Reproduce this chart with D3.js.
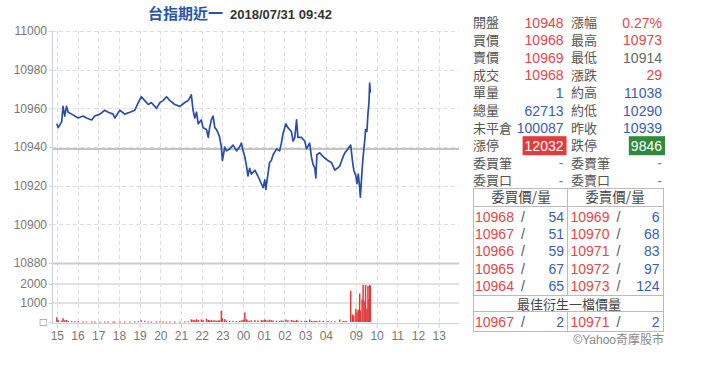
<!DOCTYPE html>
<html>
<head>
<meta charset="utf-8">
<script src="https://cdn.jsdelivr.net/npm/d3@7"></script>
<style>
  body { margin: 0; background: #fff; }
  svg { display: block; font-family: "Liberation Sans", Arial, "Noto Sans CJK TC", sans-serif; }
  .tick text { fill: #777; font-size: 12px; }
  .tick line { stroke: #c5d3e8; }
  .domain { display: none; }
</style>
</head>
<body>
<div id="chart"></div>
<script>
// Tick data for the intraday chart (minutes: night session 15:00-05:00, day session 08:45-13:45)
var hourTicks = ["15:00", "16:00", "17:00", "18:00", "19:00", "20:00", "21:00", "22:00", "23:00",
    "00:00", "01:00", "02:00", "03:00", "04:00", "09:00", "10:00", "11:00", "12:00", "13:00"];
var priceTicks = [10880, 10900, 10920, 10940, 10960, 10980, 11000];
var volumeTicks = [0, 1000, 2000];
var prevClose = 10939;

// Price / volume series
var times = ["15:00", "15:04", "15:14", "15:18", "15:23", "15:28", "15:33", "15:43", "15:52",
    "16:02", "16:16", "16:26", "16:41", "16:50", "17:05", "17:19", "17:29", "17:43", "17:48",
    "18:03", "18:17", "18:32", "18:46", "18:56", "19:05", "19:15", "19:25", "19:34", "19:49",
    "19:59", "20:08", "20:18", "20:28", "20:42", "20:57", "21:11", "21:21", "21:30", "21:35",
    "21:40", "21:45", "21:50", "21:59", "22:04", "22:14", "22:19", "22:23", "22:28", "22:33",
    "22:38", "22:43", "22:48", "22:52", "22:57", "23:00", "23:07", "23:12", "23:21", "23:31",
    "23:41", "23:50", "23:55", "00:00", "00:05", "00:10", "00:14", "00:19", "00:24", "00:34",
    "00:43", "00:53", "00:58", "01:03", "01:06", "01:12", "01:17", "01:22", "01:27", "01:37",
    "01:46", "01:51", "01:56", "02:04", "02:10", "02:20", "02:25", "02:30", "02:35", "02:39",
    "02:49", "02:59", "03:04", "03:13", "03:18", "03:23", "03:28", "03:31", "03:34", "03:42",
    "03:52", "04:06", "04:16", "04:26", "04:40", "04:50", "04:55", "05:00",
    "08:45", "08:50", "08:54", "09:00", "09:03", "09:07", "09:11", "09:13", "09:18", "09:21",
    "09:26", "09:28", "09:32", "09:35", "09:38", "09:40", "09:42"];
var prices = [10952, 10950, 10953, 10961, 10956, 10961, 10958, 10957, 10956,
    10955, 10956, 10955, 10954, 10956, 10957, 10959, 10958, 10957, 10955,
    10959, 10957, 10958, 10959, 10963, 10966, 10964, 10962, 10963, 10960,
    10963, 10964, 10966, 10964, 10962, 10961, 10963, 10964, 10967, 10959,
    10955, 10958, 10952, 10954, 10950, 10949, 10945, 10950, 10954, 10956,
    10950, 10949, 10947, 10945, 10940, 10933, 10940, 10938, 10939, 10941,
    10938, 10940, 10942, 10938, 10935, 10930, 10925, 10929, 10926, 10928,
    10925, 10921, 10919, 10923, 10918, 10926, 10932, 10933, 10936, 10939,
    10938, 10942, 10947, 10952, 10950, 10948, 10943, 10945, 10954, 10945,
    10945, 10943, 10939, 10942, 10935, 10931, 10929, 10924, 10936, 10937,
    10935, 10933, 10932, 10928, 10930, 10935, 10937, 10938,
    10941, 10933, 10928, 10925, 10921, 10926, 10919, 10914, 10928, 10935,
    10944, 10949, 10948, 10957, 10963, 10973, 10968];
var volumes = [250, 100, 70, 200, 90, 110, 60, 50, 40,
    30, 25, 30, 25, 20, 25, 20, 25, 20, 20,
    25, 20, 25, 30, 40, 90, 60, 30, 25, 30,
    40, 25, 20, 25, 20, 25, 30, 40, 140, 120,
    100, 150, 110, 130, 100, 180, 110, 90, 100, 80,
    90, 70, 80, 90, 600, 200, 150, 80, 60, 60,
    50, 60, 80, 120, 500, 150, 80, 60, 90, 100,
    80, 110, 90, 130, 100, 80, 120, 90, 80, 70,
    60, 80, 70, 130, 90, 100, 80, 60, 110, 70,
    60, 50, 60, 130, 50, 40, 50, 60, 50, 70,
    60, 50, 40, 40, 130, 60, 40, 50,
    1650, 400, 350, 700, 500, 650, 1500, 600, 1200, 1950,
    1100, 1950, 700, 1900, 1200, 1950, 1900];

// Quote panel
var leftLabels = ["開盤", "買價", "賣價", "成交", "單量", "總量", "未平倉", "漲停", "委買筆", "委買口"];
var leftValues = ["10948", "10968", "10969", "10968", "1", "62713", "100087", "12032", "-", "-"];
var leftKinds = ["up", "up", "up", "up", "info", "info", "info", "limitUp", "none", "none"];
var rightLabels = ["漲幅", "最高", "最低", "漲跌", "約高", "約低", "昨收", "跌停", "委賣筆", "委賣口"];
var rightValues = ["0.27%", "10973", "10914", "29", "11038", "10290", "10939", "9846", "-", "-"];
var rightKinds = ["up", "up", "flat", "up", "info", "info", "info", "limitDown", "none", "none"];

// Order book
var bidPrices = [10968, 10967, 10966, 10965, 10964];
var bidSizes = [54, 51, 59, 67, 65];
var askPrices = [10969, 10970, 10971, 10972, 10973];
var askSizes = [6, 68, 83, 97, 124];
var bestBid = [10967, 2];
var bestAsk = [10971, 2];

var colors = {
    up: "#e0474c", info: "#3b5db0", flat: "#666", none: "#6a7fb5",
    limitUp: "#fff", limitDown: "#fff", label: "#555"
};

// Convert a clock time to minutes on the trading axis
function toIdx(t) {
    var h = +t.slice(0, 2), m = +t.slice(3, 5);
    if (h >= 15) return (h - 15) * 60 + m;
    if (h <= 5) return (h + 9) * 60 + m;
    return 840 + 12 + (h * 60 + m - 525);
}

var svg = d3.select("#chart")
    .append("svg")
    .attr("width", 720)
    .attr("height", 374);

var x = d3.scaleLinear().domain([-14, 1166]).range([52, 459]);
var y = d3.scaleLinear().domain([10880, 11000]).range([263, 31]);
var yv = d3.scaleLinear().domain([0, 2000]).range([322, 284]);

// Title
svg.append("text")
    .attr("x", 148).attr("y", 19)
    .style("font-family", "'Noto Sans CJK TC', sans-serif")
    .style("font-size", "15px").style("font-weight", "bold")
    .attr("fill", "#2b55a8")
    .text("台指期近一");
svg.append("text")
    .attr("x", 230).attr("y", 19)
    .style("font-size", "13px").style("font-weight", "bold")
    .attr("fill", "#333")
    .text("2018/07/31 09:42");

// Vertical grid
svg.selectAll(".vgrid")
    .data(hourTicks)
    .enter()
    .append("line")
    .attr("class", "vgrid")
    .attr("x1", function (d) { return Math.round(x(toIdx(d))) + 0.5; })
    .attr("x2", function (d) { return Math.round(x(toIdx(d))) + 0.5; })
    .attr("y1", 31).attr("y2", 323)
    .attr("stroke", "#ddd")
    .attr("stroke-dasharray", "4,3");

// Horizontal price grid
svg.selectAll(".hgrid")
    .data(priceTicks)
    .enter()
    .append("line")
    .attr("class", "hgrid")
    .attr("x1", 52).attr("x2", 459)
    .attr("y1", function (d) { return Math.round(y(d)) + 0.5; })
    .attr("y2", function (d) { return Math.round(y(d)) + 0.5; })
    .attr("stroke", function (d) { return d === 10880 ? "#ccc" : "#ddd"; })
    .attr("stroke-width", function (d) { return d === 10880 ? 2 : 1; })
    .attr("stroke-dasharray", function (d) { return d === 10880 ? null : "4,3"; });

// Volume grid
svg.selectAll(".vvgrid")
    .data(volumeTicks.filter(function (d) { return d > 0; }))
    .enter()
    .append("line")
    .attr("x1", 52).attr("x2", 459)
    .attr("y1", function (d) { return yv(d); })
    .attr("y2", function (d) { return yv(d); })
    .attr("stroke", "#e2e2e2")
    .attr("stroke-width", 2);

// Previous close reference line
svg.append("line")
    .attr("x1", 52).attr("x2", 459)
    .attr("y1", y(prevClose)).attr("y2", y(prevClose))
    .attr("stroke", "#c4c4c4")
    .attr("stroke-width", 2);

// Axes
svg.append("g")
    .attr("transform", "translate(52,0)")
    .call(d3.axisLeft(y).tickValues(priceTicks).tickSize(3).tickPadding(2).tickFormat(d3.format("d")));
svg.append("g")
    .attr("transform", "translate(52,0)")
    .call(d3.axisLeft(yv).tickValues(volumeTicks).tickSize(3).tickPadding(2)
        .tickFormat(function (d) { return d === 0 ? "□" : d; }));
svg.append("g")
    .attr("transform", "translate(0,323)")
    .call(d3.axisBottom(x).tickValues(hourTicks.map(toIdx)).tickSize(5).tickPadding(3)
        .tickFormat(function (d, i) { return hourTicks[i].slice(0, 2); }));

svg.append("line")
    .attr("x1", 52.5).attr("x2", 52.5).attr("y1", 31).attr("y2", 323)
    .attr("stroke", "#c5d3e8");
svg.append("line")
    .attr("x1", 52).attr("x2", 459).attr("y1", 323.5).attr("y2", 323.5)
    .attr("stroke", "#c5d3e8");

// Volume bars
svg.selectAll(".vol")
    .data(volumes)
    .enter()
    .append("rect")
    .attr("class", "vol")
    .attr("x", function (d, i) { return x(toIdx(times[i])) - 0.75; })
    .attr("width", 1.5)
    .attr("y", function (d) { return yv(d); })
    .attr("height", function (d) { return Math.max(1, yv(0) - yv(d)); })
    .attr("fill", "#e03a3a");

// Price line
var line = d3.line()
    .x(function (d, i) { return x(toIdx(times[i])); })
    .y(function (d) { return y(d); });
svg.append("path")
    .datum(prices)
    .attr("d", line)
    .attr("fill", "none")
    .attr("stroke", "#2a4ea6")
    .attr("stroke-width", 1.7)
    .attr("stroke-linejoin", "round");

// Quote panel
var rowY = function (i) { return 22.5 + i * 17.6; };
var panel = svg.append("g").style("font-size", "14px");

function addColumn(labels, values, kinds, labelX, valueX) {
    labels.forEach(function (lab, i) {
        panel.append("text")
            .attr("x", labelX).attr("y", rowY(i) + 4.5)
            .style("font-family", "'Noto Sans CJK TC', sans-serif")
            .style("font-size", "13px")
            .attr("fill", colors.label)
            .text(lab);
        var t = panel.append("text")
            .attr("x", valueX).attr("y", rowY(i) + 5)
            .attr("text-anchor", "end")
            .attr("fill", colors[kinds[i]])
            .text(values[i]);
        if (kinds[i] === "limitUp" || kinds[i] === "limitDown") {
            var w = t.node().getComputedTextLength() + 5;
            panel.insert("rect", "text")
                .attr("x", valueX + 3 - w).attr("y", rowY(i) - 9.5)
                .attr("width", w).attr("height", 19)
                .attr("fill", kinds[i] === "limitUp" ? "#e03c3c" : "#2e8b3e");
        }
    });
}
addColumn(leftLabels, leftValues, leftKinds, 473, 563.5);
addColumn(rightLabels, rightValues, rightKinds, 571, 662);

// Order book table
var book = svg.append("g").style("font-size", "14px");
book.append("rect")
    .attr("x", 473.5).attr("y", 188.5).attr("width", 190).attr("height", 143)
    .attr("fill", "none").attr("stroke", "#bbb");
[206.5, 295.5, 311.5].forEach(function (yy) {
    book.append("line").attr("x1", 473.5).attr("x2", 663.5).attr("y1", yy).attr("y2", yy).attr("stroke", "#bbb");
});
book.append("line").attr("x1", 567.5).attr("x2", 567.5).attr("y1", 188.5).attr("y2", 295.5).attr("stroke", "#bbb");
book.append("line").attr("x1", 567.5).attr("x2", 567.5).attr("y1", 311.5).attr("y2", 331.5).attr("stroke", "#bbb");

function headText(txt, cx, cy, size) {
    book.append("text")
        .attr("x", cx).attr("y", cy + 4.5)
        .attr("text-anchor", "middle")
        .style("font-family", "'Noto Sans CJK TC', sans-serif")
        .style("font-size", size + "px")
        .attr("fill", "#444")
        .text(txt);
}
headText("委買價/量", 521, 197.5, 13.5);
headText("委賣價/量", 615, 197.5, 13.5);
headText("最佳衍生一檔價量", 569, 304, 13);

function bookRow(price, size, cy, left) {
    var x0 = left ? 475 : 570.5;
    book.append("text").attr("x", x0).attr("y", cy + 5)
        .attr("fill", colors.up).text(price);
    book.append("text").attr("x", x0 + 48).attr("y", cy + 5)
        .attr("text-anchor", "middle").attr("fill", "#555").text("/");
    book.append("text").attr("x", x0 + 89).attr("y", cy + 5)
        .attr("text-anchor", "end").attr("fill", colors.info).text(size);
}
bidPrices.forEach(function (p, i) { bookRow(p, bidSizes[i], 216.7 + i * 17.3, true); });
askPrices.forEach(function (p, i) { bookRow(p, askSizes[i], 216.7 + i * 17.3, false); });
bookRow(bestBid[0], bestBid[1], 321.7, true);
bookRow(bestAsk[0], bestAsk[1], 321.7, false);

// Source note
svg.append("text")
    .attr("x", 664).attr("y", 344)
    .attr("text-anchor", "end")
    .style("font-size", "12px")
    .attr("fill", "#888")
    .text("©Yahoo奇摩股市");
</script>
</body>
</html>
